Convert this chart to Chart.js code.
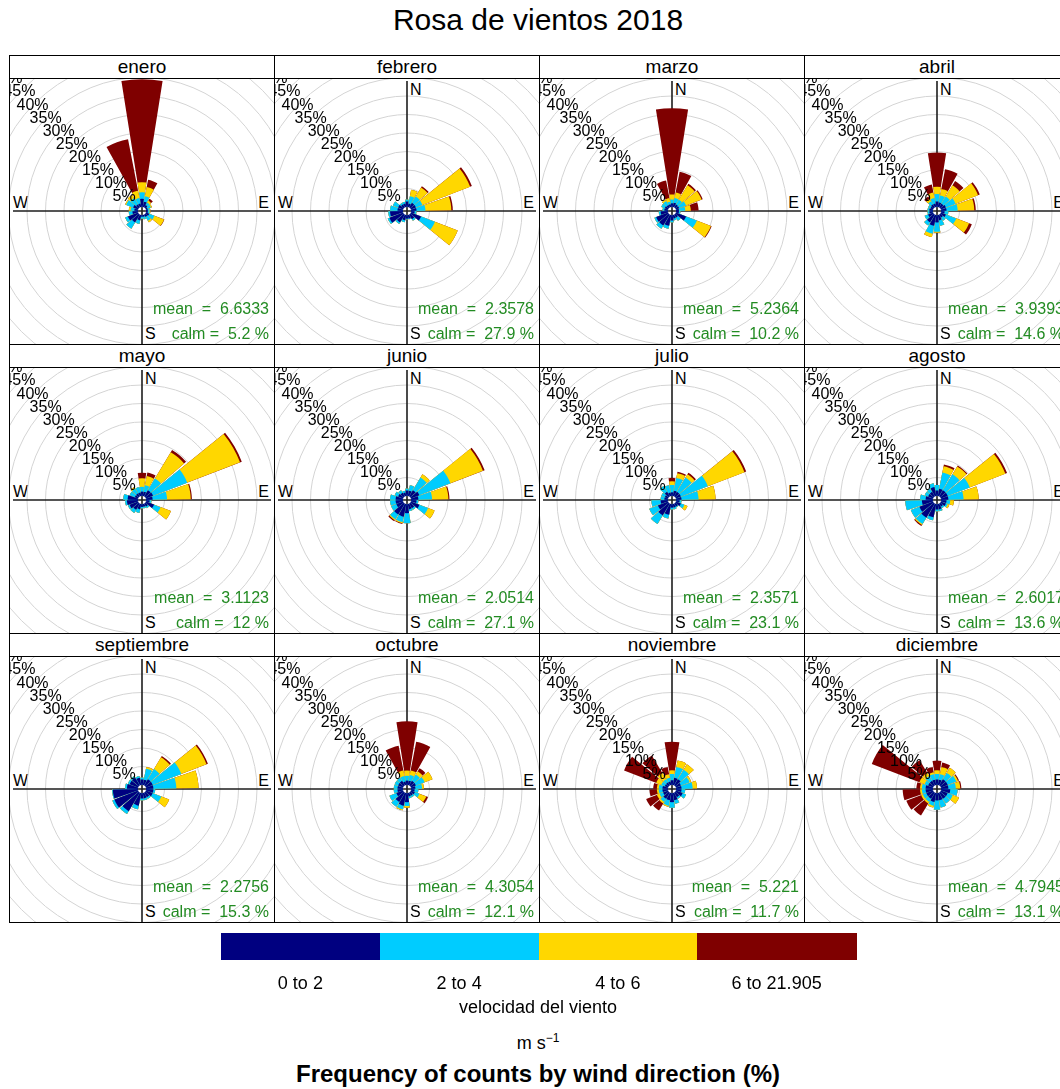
<!DOCTYPE html>
<html>
<head>
<meta charset="utf-8">
<script src="https://cdn.jsdelivr.net/npm/chart.js@4.4.1/dist/chart.umd.min.js"></script>
<style>
  html, body { margin: 0; padding: 0; background: #fff; }
  body {
    width: 1060px; height: 1089px; overflow: hidden; position: relative;
    font-family: "Liberation Sans", Arial, sans-serif; color: #000;
  }
  .abs { position: absolute; white-space: pre; }
  .panel {
    position: absolute; width: 266px; height: 290px;
    border: 1px solid #000; box-sizing: border-box; background: #fff;
  }
  .strip {
    height: 23px; border-bottom: 1px solid #000; box-sizing: border-box;
    text-align: center; font-size: 19px; line-height: 21px;
  }
  .plot { position: relative; width: 264px; height: 265px; overflow: hidden; }
  .plot canvas { position: absolute; left: -68px; top: -68px; }
  .compass { font-size: 16px; line-height: 18px; }
  .pct { font-size: 16px; line-height: 17px; transform: translate(-50%, -50%); }
  .stat { font-size: 16px; line-height: 18px; color: #228B22; transform: translate(-100%, -50%); }
</style>
</head>
<body>
<div class="abs" id="title" style="left:538px;top:20px;transform:translate(-50%,-50%);font-size:30px;">Rosa de vientos 2018</div>
<div id="grid"></div>
<div id="legend"></div>

<script>
/* ---------- Data ---------- */
const months = ["enero", "febrero", "marzo", "abril", "mayo", "junio",
  "julio", "agosto", "septiembre", "octubre", "noviembre", "diciembre"];

// wind direction (degrees) of each wedge
const directions = [20, 40, 60, 80, 100, 120, 140, 160, 180, 200, 220, 240, 260, 280, 300, 320, 340, 360];

const speedBins = ["0 to 2", "2 to 4", "4 to 6", "6 to 21.905"];
const binColors = ["#000080", "#00CCFF", "#FFD700", "#7F0000"];

const meanSpeed = ["6.6333", "2.3578", "5.2364", "3.9393", "3.1123", "2.0514",
  "2.3571", "2.6017", "2.2756", "4.3054", "5.221", "4.7945"];
const calmPct = ["5.2", "27.9", "10.2", "14.6", "12", "27.1", "23.1", "13.6", "15.3", "12.1", "11.7", "13.1"];

const ringTicks = [5, 10, 15, 20, 25, 30, 35, 40, 45, 50, 55, 60];
const labelTicks = [5, 10, 15, 20, 25, 30, 35, 40, 45, 50];

// frequency (%) per direction, one row per speed bin: [0-2, 2-4, 4-6, 6-21.905]
const enero = [
  [1.5, 0.8, 0.5, 0.5, 0.5, 1, 0.8, 0.5, 0.5, 1.5, 2.5, 3, 1.5, 1, 1.5, 1, 1, 2.2],
  [1.5, 0.8, 1, 0.5, 0.5, 1.5, 1.2, 0.7, 0.5, 1, 2, 0.8, 1, 1, 2, 2, 1.5, 1.8],
  [2.5, 0.6, 0.3, 0.2, 0.2, 2.8, 0.5, 0, 0, 0, 0, 0, 0, 0.5, 0.3, 1, 2, 2.7],
  [2, 0.6, 0, 0, 0, 0.1, 0, 0, 0, 0, 0, 0, 0, 0, 0, 0, 14.2, 27.8]
];
const febrero = [
  [1, 1.5, 1.5, 1.5, 1, 3, 1.5, 1, 1, 1.5, 2.5, 4, 3.5, 1.5, 1.5, 1, 1, 1.5],
  [2, 2, 1.9, 2.4, 0.5, 4, 0.5, 0.2, 0.2, 0.5, 0.5, 0.5, 0.5, 2, 1.5, 0.5, 0.5, 0.5],
  [1.8, 2.8, 13.8, 7, 0, 6.6, 0, 0, 0, 0, 0, 0, 0, 0, 0, 0, 0, 0],
  [0, 0.4, 0.5, 0.4, 0, 0, 0, 0, 0, 0, 0, 0, 0, 0, 0, 0, 0, 0]
];
const marzo = [
  [1.2, 1, 1, 0.8, 0.8, 3, 1, 1, 1.5, 3, 3.5, 3.5, 2, 1, 1, 0.8, 0.8, 1],
  [1.3, 1.5, 2, 1.7, 0.4, 3.1, 1, 0.5, 0.5, 0.8, 1, 0.5, 0.5, 0.5, 1, 1.2, 0.7, 1],
  [1.5, 4.5, 4.5, 1.5, 0, 4.1, 0, 0, 0, 0, 0, 0, 0, 0, 0, 0.5, 1, 1.4],
  [5.7, 0.5, 0.3, 2.1, 0, 0.2, 0, 0, 0, 0, 0, 0, 0, 0, 0, 0, 4.8, 23.3]
];
const abril = [
  [1.3, 1.2, 1.5, 1.5, 1, 1.5, 1, 1.5, 2, 3, 2.5, 1.5, 1, 1, 0.8, 1, 1, 1.5],
  [1.9, 2.3, 2.8, 3, 1, 3, 1, 1.5, 2.5, 2.2, 1, 1, 0.5, 0.5, 0.7, 1, 1.5, 2],
  [1.8, 3.5, 6.5, 4.5, 0, 3.7, 0, 0, 0.3, 0.9, 0, 0, 0, 0, 0, 0.8, 1.5, 2],
  [5.4, 1.4, 0.5, 0.4, 0, 0.8, 0, 0, 0, 0, 0, 0, 0, 0, 0, 0.7, 2.2, 9.2]
];
const mayo = [
  [1.2, 2, 2.1, 1.8, 1, 2.4, 1, 0.8, 0.8, 1.5, 2, 2.5, 3, 2.8, 1, 1, 1, 1.2],
  [1.8, 3.7, 9.9, 3.9, 0.5, 1.9, 0.5, 0.4, 0.4, 1, 1, 0.5, 0.5, 1.2, 1.5, 1.5, 1.5, 1.3],
  [2.5, 8.3, 15.3, 6.4, 0, 3, 0, 0, 0, 0, 0, 0, 0, 0, 0, 0.5, 0, 2.3],
  [1, 0.7, 0.5, 0.3, 0, 0, 0, 0, 0, 0, 0, 0, 0, 0, 0, 0, 0, 1.5]
];
const junio = [
  [1.5, 2, 2.5, 2, 1.5, 2.5, 1.5, 1.5, 2.5, 3.5, 3.5, 2, 2, 2, 1.5, 1.2, 1, 1.5],
  [1.5, 4, 9, 3.7, 0.5, 2.5, 0.5, 0.5, 2.7, 1.5, 1.5, 1.5, 1.5, 1.5, 1, 0.8, 0.5, 0.5],
  [0, 1, 9.4, 4.4, 0, 1.9, 0, 0, 0, 0.3, 0.3, 0, 0, 0, 0, 0, 0, 0],
  [0, 0, 0.5, 0.3, 0, 0, 0, 0, 0, 0.2, 0.3, 0, 0, 0, 0, 0, 0, 0]
];
const julio = [
  [1.5, 1.5, 1.5, 1.5, 1, 1.5, 1, 1, 1, 3, 3.8, 3, 2, 1, 1, 1.5, 1, 1],
  [3.5, 4.5, 7.8, 4.6, 0.5, 1, 0.2, 0.5, 0.5, 1, 2.7, 2.5, 2.5, 1, 1, 1.8, 2, 2],
  [1.3, 1, 10.6, 4.6, 0, 0.9, 0, 0, 0, 0, 0, 0, 0, 0, 0, 0, 0, 1],
  [0.4, 0.5, 0.5, 0, 0, 0, 0, 0, 0, 0, 0, 0, 0, 0, 0, 0, 0, 0.9]
];
const agosto = [
  [2, 2, 2, 2, 1.5, 1.5, 1, 1.5, 1.5, 3.7, 4.5, 4, 3, 2, 1.5, 1.5, 2.5, 1.5],
  [4.5, 5, 6.4, 4.1, 1, 0.5, 0.5, 0.5, 0.5, 0.8, 2, 2.5, 4.5, 1.5, 1, 1, 1, 1.5],
  [1.7, 2.5, 10.3, 4.1, 1, 0.5, 0, 0, 0, 0, 0.3, 0, 0, 0, 0, 0, 0, 0],
  [0.5, 0.3, 0.5, 0, 0, 0, 0, 0, 0, 0, 0.3, 0, 0, 0, 0, 0, 0, 0]
];
const septiembre = [
  [1.5, 2, 2, 2, 2, 2, 1.5, 1.5, 1.5, 3.5, 5.9, 6.9, 6.8, 3, 2.5, 2.5, 2, 1.5],
  [3, 3.2, 8.3, 6.2, 0.5, 2.5, 0.5, 0.5, 0.5, 1, 0.9, 0.6, 0.2, 0.5, 0.5, 0.5, 0.5, 0.5],
  [0.5, 3.7, 7.3, 6, 0, 2.3, 0, 0, 0, 0, 0, 0, 0, 0, 0, 0, 0, 0],
  [0, 0.4, 0.4, 0, 0, 0, 0, 0, 0, 0, 0, 0, 0, 0, 0, 0, 0, 0]
];
const octubre = [
  [1.2, 1.5, 1.5, 1.2, 1, 1.2, 1, 1, 2.5, 3.5, 3, 2, 1.5, 1.5, 1.5, 1.5, 1, 1.2],
  [1.6, 2, 2.5, 1.8, 1, 1.3, 0.5, 0.5, 1, 1, 1.5, 2, 1, 1, 1, 1, 1.5, 1.3],
  [1.2, 1, 2.3, 0.5, 0, 2, 0, 0, 0.5, 0.3, 0, 0, 0, 0, 0, 0, 1.5, 1.4],
  [7.9, 1, 0, 0, 0, 0.5, 0, 0, 0, 0, 0, 0, 0, 0, 0, 0, 6.8, 13.3]
];
const noviembre = [
  [2, 2, 1.5, 1.5, 1.5, 2, 1.5, 2, 2.5, 2, 2, 1.5, 1.5, 1.5, 1, 1, 1, 1.3],
  [3, 3, 2.5, 3, 1, 1, 0.5, 1, 1.5, 1.5, 1, 1, 1, 1, 1, 1, 1, 1.7],
  [1.8, 1.7, 0.5, 1.2, 0, 0, 0, 0, 0, 0.3, 0.5, 0.8, 0.5, 0.5, 1.5, 2, 1, 1],
  [0, 0, 0, 0, 0, 0, 0, 0, 0, 0, 2.2, 3.1, 2, 1, 9.3, 5.5, 2, 7.7]
];
const diciembre = [
  [1.5, 2, 2, 2, 2.5, 2, 2, 2, 2, 2.5, 2, 2, 2, 2, 1.5, 1.5, 1.5, 1.5],
  [1.5, 2, 2.5, 2, 2, 1.5, 1.5, 2, 2.5, 1, 1, 1, 1, 1, 1, 1.5, 1.5, 1.5],
  [2, 1.6, 0.5, 1.2, 0, 1.8, 0, 0, 0, 0.5, 0.5, 0.5, 0.5, 0.5, 1.5, 1, 0.5, 1],
  [1.2, 0, 0.3, 0.3, 0, 0, 0, 0, 0, 0, 3.8, 4.3, 4.7, 1, 13.8, 4, 1.5, 2.6]
];

const monthData = [enero, febrero, marzo, abril, mayo, junio,
  julio, agosto, septiembre, octubre, noviembre, diciembre];

/* ---------- Layout constants ---------- */
const colX = [9, 274, 539, 804];
const rowY = [55, 344, 633];
const CANVAS = 400;
const PX_PER_PCT = 3.7;   // ring spacing
const HOLE_PX = 4;        // empty hole in the middle
const WEDGE = 18, GAP = 2; // degrees
const AXIS_COLOR = "#1e1e1e";

/* ---------- Decorations drawn with the radial scale ---------- */
function drawAxes(ctx, s) {
  ctx.save();
  ctx.strokeStyle = AXIS_COLOR;
  ctx.lineWidth = 1.6;
  ctx.beginPath();
  ctx.moveTo(s.xCenter - 129, s.yCenter);
  ctx.lineTo(s.xCenter + 129, s.yCenter);
  ctx.moveTo(s.xCenter, s.yCenter - 130);
  ctx.lineTo(s.xCenter, s.yCenter + 140);
  ctx.stroke();
  ctx.restore();
}

const roseDecor = {
  id: "roseDecor",
  beforeDatasetsDraw(chart) {
    drawAxes(chart.ctx, chart.scales.r);
  },
  afterDatasetsDraw(chart) {
    const s = chart.scales.r;
    const ctx = chart.ctx;
    const r0 = s.getDistanceFromCenterForValue(0);
    ctx.save();
    ctx.beginPath();
    ctx.arc(s.xCenter, s.yCenter, r0, 0, Math.PI * 2);
    ctx.fillStyle = "#fff";
    ctx.fill();
    ctx.clip();
    drawAxes(ctx, s);
    ctx.restore();
  }
};

/* ---------- Build one rose ---------- */
function makeRose(canvas, bins) {
  const labels = [];
  directions.forEach((d) => { labels.push(d + "°"); labels.push(""); });

  // stacked: each ring shows the cumulative frequency up to that speed bin
  const datasets = bins.map((_, b) => {
    const data = [];
    directions.forEach((_, i) => {
      let cum = 0;
      for (let k = 0; k <= b; k++) cum += bins[k][i];
      data.push(cum, 0);
    });
    return {
      label: speedBins[b],
      data,
      backgroundColor: (ctx) => (ctx.dataIndex % 2 ? "rgba(0,0,0,0)" : binColors[b]),
      angle: (ctx) => (ctx.dataIndex % 2 ? GAP : WEDGE),
      borderWidth: 0
    };
  });

  const min = -HOLE_PX / PX_PER_PCT;
  return new Chart(canvas, {
    type: "polarArea",
    data: { labels, datasets },
    options: {
      responsive: false,
      animation: false,
      events: [],
      devicePixelRatio: 1,
      layout: { padding: 0 },
      plugins: { legend: { display: false }, tooltip: { enabled: false } },
      scales: {
        r: {
          min,
          max: min + (CANVAS / 2) / PX_PER_PCT,
          startAngle: directions[0] - WEDGE / 2,
          grid: { circular: true, color: "#d4d4d4", lineWidth: 1 },
          angleLines: { display: false },
          pointLabels: { display: false },
          ticks: { display: false },
          afterBuildTicks: (scale) => {
            scale.ticks = ringTicks.map((v) => ({ value: v }));
          }
        }
      }
    },
    plugins: [roseDecor]
  });
}

/* ---------- Panels ---------- */
const grid = document.getElementById("grid");
months.forEach((name, m) => {
  const col = m % 4, row = Math.floor(m / 4);
  const panel = document.createElement("div");
  panel.className = "panel";
  panel.style.left = colX[col] + "px";
  panel.style.top = rowY[row] + "px";

  const strip = document.createElement("div");
  strip.className = "strip";
  strip.textContent = name;
  panel.appendChild(strip);

  const plot = document.createElement("div");
  plot.className = "plot";
  panel.appendChild(plot);
  grid.appendChild(panel);

  const cx = 132, cy = 132;
  // compass letters sit under the wedges
  const under = [
    ["N", cx + 3, cy - 121, "translate(0,-50%)"],
    ["W", cx - 129, cy - 8, "translate(0,-50%)"],
    ["E", cx + 127, cy - 8, "translate(-100%,-50%)"],
    ["S", cx + 3, cy + 123, "translate(0,-50%)"]
  ];
  under.forEach(([t, x, y, tr]) => {
    const el = document.createElement("div");
    el.className = "abs compass";
    el.style.left = x + "px";
    el.style.top = y + "px";
    el.style.transform = tr;
    el.textContent = t;
    plot.appendChild(el);
  });

  const canvas = document.createElement("canvas");
  canvas.width = CANVAS;
  canvas.height = CANVAS;
  plot.appendChild(canvas);
  const chart = makeRose(canvas, monthData[m]);

  // percentage labels along the NW diagonal, on top of the wedges
  const s = chart.scales.r;
  labelTicks.forEach((p) => {
    const r = s.getDistanceFromCenterForValue(p) * Math.SQRT1_2;
    const el = document.createElement("div");
    el.className = "abs pct";
    el.style.left = (s.xCenter - r - 68 - 2) + "px";
    el.style.top = (s.yCenter - r - 68) + "px";
    el.textContent = p + "%";
    plot.appendChild(el);
  });

  const mean = document.createElement("div");
  mean.className = "abs stat";
  mean.style.left = (cx + 127) + "px";
  mean.style.top = (cy + 98) + "px";
  mean.textContent = "mean  =  " + meanSpeed[m];
  plot.appendChild(mean);

  const calm = document.createElement("div");
  calm.className = "abs stat";
  calm.style.left = (cx + 127) + "px";
  calm.style.top = (cy + 123) + "px";
  calm.textContent = "calm =  " + calmPct[m] + " %";
  plot.appendChild(calm);
});

/* ---------- Colour key ---------- */
const legend = document.getElementById("legend");
const keyLeft = 221, keyTop = 933, keyW = 635, keyH = 27;
const segW = keyW / speedBins.length;
speedBins.forEach((lab, b) => {
  const box = document.createElement("div");
  box.className = "abs";
  box.style.cssText += `left:${keyLeft + b * segW}px;top:${keyTop}px;width:${segW + 0.5}px;height:${keyH}px;background:${binColors[b]};`;
  legend.appendChild(box);

  const t = document.createElement("div");
  t.className = "abs";
  t.style.cssText += `left:${keyLeft + (b + 0.5) * segW}px;top:983px;transform:translate(-50%,-50%);font-size:18px;`;
  t.textContent = lab;
  legend.appendChild(t);
});
const extra = [
  ["velocidad del viento", 1007, "font-size:18px;"],
  ["m s<sup style='font-size:12px'>−1</sup>", 1042, "font-size:18px;"],
  ["Frequency of counts by wind direction (%)", 1074, "font-size:24px;font-weight:bold;"]
];
extra.forEach(([txt, y, st]) => {
  const el = document.createElement("div");
  el.className = "abs";
  el.style.cssText += `left:538px;top:${y}px;transform:translate(-50%,-50%);${st}`;
  el.innerHTML = txt;
  legend.appendChild(el);
});
</script>
</body>
</html>
